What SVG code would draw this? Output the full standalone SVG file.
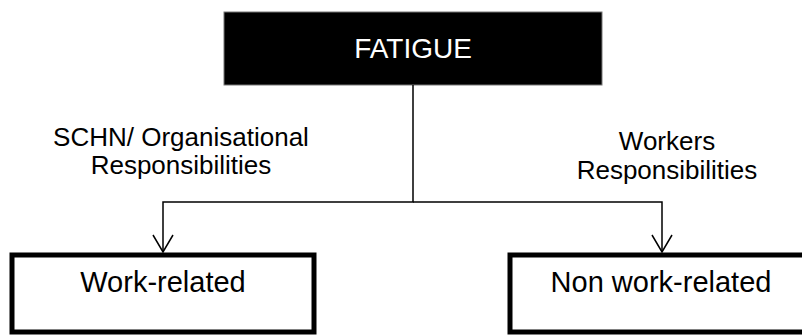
<svg xmlns="http://www.w3.org/2000/svg" width="802" height="336" viewBox="0 0 802 336">
<style>
text{font-family:"Liberation Sans",Arial,sans-serif;text-anchor:middle;fill:#000}
.lbl{font-size:26px}
.box{fill:#fff;stroke:#000;stroke-width:5}
.big{font-size:28px}
.bx{font-size:29px}
.conn{fill:none;stroke:#000;stroke-width:1.5}
</style>
<g id="fatigue">
<rect x="224" y="12" width="378" height="73" fill="#000" stroke="#777" stroke-width="1"/>
<text x="413" y="58" class="big" style="fill:#fff">FATIGUE</text>
</g>
<g id="connectors">
<polyline class="conn" points="413,85 413,202 163,202 163,252"/>
<polyline class="conn" points="413,202 662,202 662,252"/>
<polyline class="conn" points="153,235 163,252 173,235"/>
<polyline class="conn" points="652,235 662,252 672,235"/>
</g>
<g id="label-left">
<text x="181" y="146" class="lbl">SCHN/ Organisational</text>
<text x="181" y="174" class="lbl">Responsibilities</text>
</g>
<g id="label-right">
<text x="667" y="150" class="lbl">Workers</text>
<text x="667" y="179" class="lbl">Responsibilities</text>
</g>
<g id="work-related">
<rect x="12" y="255" width="302" height="77" class="box"/>
<text x="163" y="292" class="bx">Work-related</text>
</g>
<g id="non-work-related">
<rect x="510" y="255" width="302" height="77" class="box"/>
<text x="661" y="292" class="bx">Non work-related</text>
</g>
</svg>
